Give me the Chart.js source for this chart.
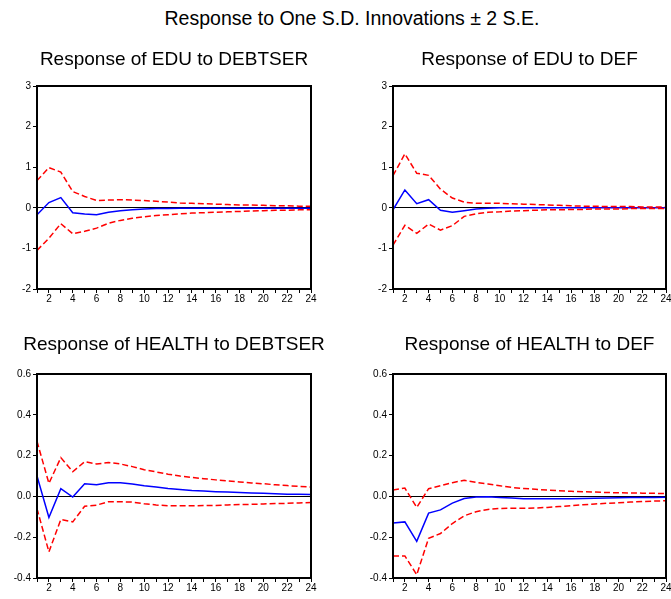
<!DOCTYPE html>
<html>
<head>
<meta charset="utf-8">
<script src="https://cdn.jsdelivr.net/npm/chart.js@4.4.1/dist/chart.umd.min.js"></script>
<style>
html,body{margin:0;padding:0;width:671px;height:599px;overflow:hidden;background:#fff;}
#main{position:absolute;left:0;top:7px;width:704px;text-align:center;font-family:"Liberation Sans",Arial,sans-serif;font-size:19.5px;line-height:23px;color:#000;}
.pn{position:absolute;}
</style>
</head>
<body>
<div id="main">Response to One S.D. Innovations ± 2 S.E.</div>
<div class="pn" style="left:0;top:40px;width:348px;height:269px;"><canvas id="c1"></canvas></div>
<div class="pn" style="left:356px;top:40px;width:347px;height:269px;"><canvas id="c2"></canvas></div>
<div class="pn" style="left:0;top:328px;width:348px;height:270px;"><canvas id="c3"></canvas></div>
<div class="pn" style="left:356px;top:328px;width:347px;height:270px;"><canvas id="c4"></canvas></div>
<script>
const periods = [1,2,3,4,5,6,7,8,9,10,11,12,13,14,15,16,17,18,19,20,21,22,23,24];
const titles = ["Response of EDU to DEBTSER","Response of EDU to DEF","Response of HEALTH to DEBTSER","Response of HEALTH to DEF"];

const eduDebt     = [-0.17,0.13,0.25,-0.12,-0.15,-0.17,-0.11,-0.07,-0.05,-0.03,-0.02,-0.02,-0.01,-0.01,-0.01,-0.01,-0.01,-0.01,-0.01,-0.01,-0.01,-0.01,-0.01,-0.01];
const eduDebtUp   = [0.67,0.99,0.88,0.40,0.28,0.18,0.19,0.20,0.19,0.18,0.16,0.14,0.12,0.11,0.10,0.09,0.08,0.07,0.07,0.06,0.05,0.05,0.04,0.04];
const eduDebtLo   = [-1.05,-0.75,-0.39,-0.64,-0.58,-0.50,-0.38,-0.31,-0.26,-0.22,-0.19,-0.17,-0.15,-0.13,-0.12,-0.11,-0.10,-0.09,-0.08,-0.07,-0.06,-0.06,-0.05,-0.05];

const eduDef      = [-0.05,0.44,0.10,0.20,-0.06,-0.11,-0.07,-0.03,-0.01,0.00,0.00,0.00,0.00,0.00,0.00,0.00,0.00,0.00,0.00,0.00,0.00,0.00,0.00,0.00];
const eduDefUp    = [0.79,1.33,0.85,0.80,0.46,0.24,0.14,0.11,0.11,0.11,0.10,0.09,0.08,0.07,0.06,0.05,0.04,0.04,0.03,0.03,0.03,0.02,0.02,0.02];
const eduDefLo    = [-0.92,-0.43,-0.63,-0.40,-0.55,-0.44,-0.21,-0.15,-0.11,-0.10,-0.08,-0.07,-0.06,-0.05,-0.05,-0.04,-0.04,-0.03,-0.03,-0.03,-0.02,-0.02,-0.02,-0.02];

const hlthDebt    = [0.100,-0.103,0.038,-0.003,0.062,0.057,0.067,0.067,0.061,0.052,0.046,0.039,0.034,0.029,0.026,0.023,0.021,0.019,0.017,0.015,0.013,0.011,0.010,0.009];
const hlthDebtUp  = [0.270,0.064,0.190,0.121,0.170,0.159,0.166,0.159,0.146,0.131,0.120,0.109,0.100,0.093,0.087,0.081,0.076,0.071,0.066,0.062,0.057,0.053,0.049,0.046];
const hlthDebtLo  = [-0.060,-0.272,-0.113,-0.125,-0.048,-0.043,-0.026,-0.026,-0.028,-0.036,-0.042,-0.046,-0.046,-0.046,-0.045,-0.044,-0.042,-0.040,-0.039,-0.037,-0.035,-0.034,-0.032,-0.030];

const hlthDef     = [-0.131,-0.125,-0.220,-0.082,-0.066,-0.033,-0.010,-0.003,-0.002,-0.005,-0.008,-0.011,-0.012,-0.012,-0.011,-0.011,-0.010,-0.009,-0.008,-0.007,-0.006,-0.006,-0.005,-0.004];
const hlthDefUp   = [0.031,0.041,-0.054,0.038,0.052,0.067,0.079,0.069,0.061,0.052,0.044,0.039,0.035,0.031,0.028,0.025,0.023,0.021,0.019,0.018,0.017,0.016,0.015,0.014];
const hlthDefLo   = [-0.292,-0.292,-0.384,-0.205,-0.182,-0.133,-0.095,-0.075,-0.064,-0.059,-0.058,-0.058,-0.057,-0.054,-0.050,-0.045,-0.041,-0.037,-0.034,-0.031,-0.028,-0.025,-0.023,-0.021];

const eduTicks = {min:-2, max:3, step:1};
const hlthTicks = {min:-0.4, max:0.6, step:0.2};

const FONT = "'Liberation Sans', Arial, sans-serif";

const framePlugin = {
  id:'frame',
  afterDraw(chart){
    const a = chart.chartArea, c = chart.ctx;
    c.save();
    c.strokeStyle = '#000';
    c.lineWidth = 2;
    c.strokeRect(a.left, a.top, a.right - a.left, a.bottom - a.top);
    c.restore();
  }
};

function pts(arr){ return periods.map((p,i)=>({x:p, y:arr[i]})); }

function make(id, title, mid, up, lo, yt, dec, tpad){
  new Chart(document.getElementById(id), {
    type:'line',
    data:{ datasets:[
      {data:pts(up), borderColor:'#ff0000', borderWidth:1.5, borderDash:[6,3], pointRadius:0, tension:0, fill:false},
      {data:pts(lo), borderColor:'#ff0000', borderWidth:1.5, borderDash:[6,3], pointRadius:0, tension:0, fill:false},
      {data:pts(mid), borderColor:'#0000ff', borderWidth:1.5, pointRadius:0, tension:0, fill:false}
    ]},
    options:{
      responsive:true, maintainAspectRatio:false, animation:false,
      layout:{padding:0},
      plugins:{
        legend:{display:false}, tooltip:{enabled:false},
        title:{display:true, text:title, color:'#000', font:{family:FONT, size:19, weight:'normal'}, padding:tpad}
      },
      scales:{
        x:{type:'linear', min:1, max:24,
           afterFit(s){ s.height = 20; },
           border:{display:false},
           grid:{drawOnChartArea:false, drawTicks:true, tickLength:4, tickColor:'#000', tickWidth:1},
           ticks:{stepSize:1, autoSkip:false, maxRotation:0, padding:0, color:'#000', font:{family:FONT, size:10},
                  callback:(v)=> (v % 2 === 0 ? String(v) : '')}
        },
        y:{min:yt.min, max:yt.max,
           afterFit(s){ s.width = 37; },
           border:{display:false},
           grid:{drawOnChartArea:true, drawTicks:true, tickLength:4, tickWidth:1, tickColor:'#000', lineWidth:1,
                 color:(ctx)=> (ctx.tick && Math.abs(ctx.tick.value) < 1e-9 ? '#000' : 'rgba(0,0,0,0)')},
           ticks:{stepSize:yt.step, padding:2, color:'#000', font:{family:FONT, size:10},
                  callback:(v)=> dec ? (Math.abs(v)<1e-9 ? '0.0' : v.toFixed(1)) : String(Math.round(v))}
        },
        yr:{position:'right', min:0, max:1,
           afterFit(s){ s.width = 37; },
           border:{display:false},
           grid:{display:false},
           ticks:{display:false}
        }
      }
    },
    plugins:[framePlugin]
  });
}

const topPad = {top:8, bottom:15.2};
const botPad = {top:5, bottom:18.2};
make('c1', titles[0], eduDebt, eduDebtUp, eduDebtLo, eduTicks, false, topPad);
make('c2', titles[1], eduDef, eduDefUp, eduDefLo, eduTicks, false, topPad);
make('c3', titles[2], hlthDebt, hlthDebtUp, hlthDebtLo, hlthTicks, true, botPad);
make('c4', titles[3], hlthDef, hlthDefUp, hlthDefLo, hlthTicks, true, botPad);
</script>
</body>
</html>
